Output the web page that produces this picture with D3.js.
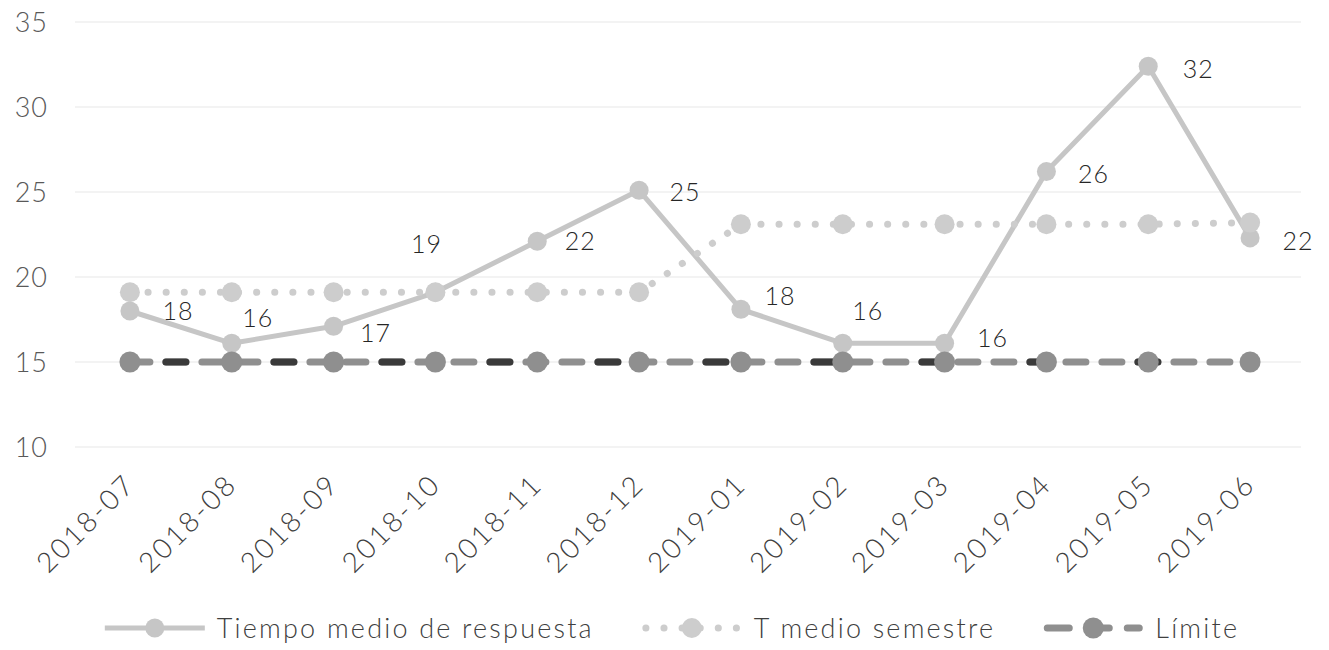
<!DOCTYPE html>
<html>
<head>
<meta charset="utf-8">
<script src="https://cdn.jsdelivr.net/npm/d3@7"></script>
<style>
  body { margin: 0; background: #fff; }
  svg { display: block; font-family: Lato, "Open Sans", sans-serif; font-weight: 300; }
</style>
</head>
<body>
<svg id="chart"></svg>
<script>
// data
var months = ["2018-07", "2018-08", "2018-09", "2018-10", "2018-11", "2018-12",
              "2019-01", "2019-02", "2019-03", "2019-04", "2019-05", "2019-06"];
var tiempoMedio = [18, 16.1, 17.1, 19.1, 22.1, 25.1, 18.1, 16.1, 16.1, 26.2, 32.4, 22.3];
var tMedioSemestre = [19.1, 19.1, 19.1, 19.1, 19.1, 19.1, 23.1, 23.1, 23.1, 23.1, 23.1, 23.2];
var limite = [15, 15, 15, 15, 15, 15, 15, 15, 15, 15, 15, 15];
var yTicks = [10, 15, 20, 25, 30, 35];
var seriesNames = ["Tiempo medio de respuesta", "T medio semestre", "Límite"];

// label nudges (dx, dy) for the data labels of the first series
var labelNudge = [[48, 0], [26, -25], [42, 7], [-9, -48], [43, 0], [46, 2],
                  [39, -13], [25, -32], [48, -5], [47, 2], [50, 3], [48, 3]];

var width = 1329,
    height = 650;

var svg = d3.select("#chart")
    .attr("width", width)
    .attr("height", height);

var x = d3.scaleBand()
    .domain(months)
    .range([79, 1301]);

var y = d3.scaleLinear()
    .domain([10, 35])
    .range([447, 22]);

function cx(d, i) { return x(months[i]) + x.bandwidth() / 2; }

// gridlines
svg.append("g")
    .selectAll("line")
    .data(yTicks)
    .enter()
    .append("line")
    .attr("x1", 75)
    .attr("x2", 1301)
    .attr("y1", function(d) { return y(d); })
    .attr("y2", function(d) { return y(d); })
    .style("stroke", "#efefef")
    .style("stroke-width", 1.5);

// y labels
svg.append("g")
    .selectAll("text")
    .data(yTicks)
    .enter()
    .append("text")
    .attr("x", 48)
    .attr("y", function(d) { return y(d); })
    .attr("dy", "0.36em")
    .attr("text-anchor", "end")
    .style("font-size", "27px")
    .style("letter-spacing", "1px")
    .style("fill", "#595959")
    .text(function(d) { return d; });

// x labels
svg.append("g")
    .selectAll("text")
    .data(months)
    .enter()
    .append("text")
    .attr("transform", function(d) {
        return "translate(" + (x(d) + x.bandwidth() / 2 + 7) + ",486) rotate(-45)";
    })
    .attr("text-anchor", "end")
    .style("font-size", "28px")
    .style("letter-spacing", "2.5px")
    .style("fill", "#404040")
    .text(function(d) { return d; });

var line = d3.line()
    .x(cx)
    .y(function(d) { return y(d); });

// Tiempo medio de respuesta
var cTiempo = "#c6c6c6";
svg.append("path")
    .datum(tiempoMedio)
    .attr("d", line)
    .style("fill", "none")
    .style("stroke", cTiempo)
    .style("stroke-width", 5)
    .style("stroke-linejoin", "round");

svg.append("g")
    .selectAll("circle")
    .data(tiempoMedio)
    .enter()
    .append("circle")
    .attr("cx", cx)
    .attr("cy", function(d) { return y(d); })
    .attr("r", 9.5)
    .style("fill", cTiempo);

// T medio semestre
var cSem = "#cdcdcd";
svg.append("path")
    .datum(tMedioSemestre)
    .attr("d", line)
    .style("fill", "none")
    .style("stroke", cSem)
    .style("stroke-width", 7)
    .style("stroke-linecap", "round")
    .style("stroke-dasharray", "0.1 18");

svg.append("g")
    .selectAll("circle")
    .data(tMedioSemestre)
    .enter()
    .append("circle")
    .attr("cx", cx)
    .attr("cy", function(d) { return y(d); })
    .attr("r", 10)
    .style("fill", cSem);

// Límite
var cLim = "#8f8f8f";
svg.append("path")
    .datum(limite)
    .attr("d", line)
    .style("fill", "none")
    .style("stroke", cLim)
    .style("stroke-width", 7)
    .style("stroke-linecap", "round")
    .style("stroke-dasharray", "20 16");

// darker dashes from the scan, every third dash
svg.append("path")
    .datum(limite)
    .attr("d", line)
    .style("fill", "none")
    .style("stroke", "#3a3a3a")
    .style("stroke-width", 7)
    .style("stroke-linecap", "round")
    .style("stroke-dasharray", "20 88")
    .style("stroke-dashoffset", -36);

svg.append("g")
    .selectAll("circle")
    .data(limite)
    .enter()
    .append("circle")
    .attr("cx", cx)
    .attr("cy", function(d) { return y(d); })
    .attr("r", 10.5)
    .style("fill", cLim);

// data labels
svg.append("g")
    .selectAll("text")
    .data(tiempoMedio)
    .enter()
    .append("text")
    .attr("x", function(d, i) { return cx(d, i) + labelNudge[i][0]; })
    .attr("y", function(d, i) { return y(d) + labelNudge[i][1]; })
    .attr("dy", "0.36em")
    .attr("text-anchor", "middle")
    .style("font-size", "25px")
    .style("letter-spacing", "1px")
    .style("fill", "#262626")
    .text(function(d) { return d3.format(".0f")(d); });

// legend
var legend = svg.append("g").attr("class", "legend");
var styles = [
    { color: cTiempo, dash: null, width: 5, cap: "butt", r: 9.5 },
    { color: cSem, dash: "0.1 18", width: 7, cap: "round", r: 10 },
    { color: cLim, dash: "22 18", width: 7, cap: "round", r: 10.5 }
];
var items = legend.selectAll("g")
    .data(seriesNames)
    .enter()
    .append("g");

items.append("text")
    .attr("x", 112)
    .attr("y", 0)
    .attr("dy", "0.36em")
    .style("font-size", "27px")
    .style("letter-spacing", "2.2px")
    .style("fill", "#404040")
    .text(function(d) { return d; });

var widths = [];
items.select("text").each(function() { widths.push(this.getComputedTextLength()); });
var gap = 48;
var total = d3.sum(widths) + widths.length * 112 + gap * (widths.length - 1);
var start = 672 - total / 2;
var pos = [];
widths.forEach(function(w, i) {
    pos.push(start);
    start += 112 + w + gap;
});

items.attr("transform", function(d, i) { return "translate(" + pos[i] + ",628)"; });

items.append("line")
    .attr("x1", function(d, i) { return i === 2 ? 4 : 0; })
    .attr("x2", function(d, i) { return i === 2 ? 96 : 100; })
    .style("stroke", function(d, i) { return styles[i].color; })
    .style("stroke-width", function(d, i) { return styles[i].width; })
    .style("stroke-linecap", function(d, i) { return styles[i].cap; })
    .style("stroke-dasharray", function(d, i) { return styles[i].dash; })
    .style("stroke-dashoffset", function(d, i) { return i === 1 ? -4 : 0; });

items.append("circle")
    .attr("cx", 50)
    .attr("r", function(d, i) { return styles[i].r; })
    .style("fill", function(d, i) { return styles[i].color; });
</script>
</body>
</html>
